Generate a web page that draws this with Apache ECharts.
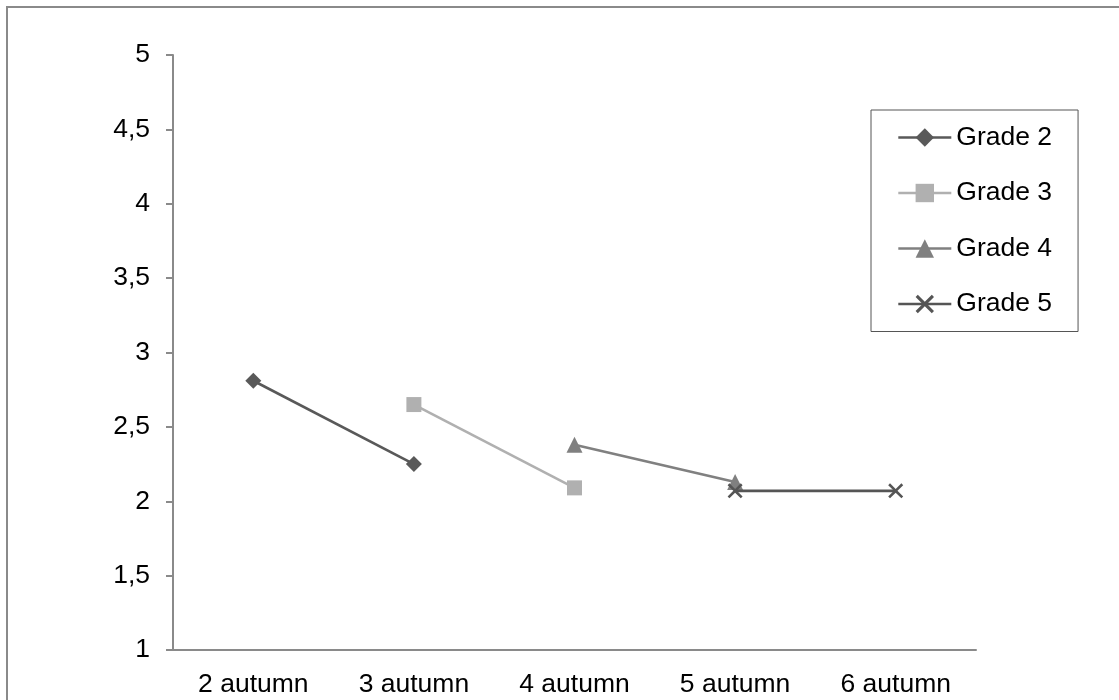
<!DOCTYPE html>
<html>
<head>
<meta charset="utf-8">
<script src="https://cdn.jsdelivr.net/npm/echarts@6/dist/echarts.min.js"></script>
<style>
html,body{margin:0;padding:0;background:#fff;}
#chart{position:absolute;left:0;top:0;width:1119px;height:700px;}
#frame{position:absolute;left:6px;top:6px;right:0;bottom:0;border-top:2px solid #8a8a8a;border-left:2px solid #8a8a8a;pointer-events:none;}
</style>
</head>
<body>
<div id="chart"></div>
<div id="frame"></div>
<script>
const categories = ['2 autumn', '3 autumn', '4 autumn', '5 autumn', '6 autumn'];
const seriesNames = ['Grade 2', 'Grade 3', 'Grade 4', 'Grade 5'];
const grade2 = [2.81, 2.25, null, null, null];
const grade3 = [null, 2.65, 2.09, null, null];
const grade4 = [null, null, 2.38, 2.13, null];
const grade5 = [null, null, null, 2.07, 2.07];
const yMin = 1, yMax = 5, yStep = 0.5;

const colors = ['#595959', '#b0b0b0', '#808080', '#555555'];
const xPath = 'path://M0,1.2 L1.2,0 L5,3.8 L8.8,0 L10,1.2 L6.2,5 L10,8.8 L8.8,10 L5,6.2 L1.2,10 L0,8.8 L3.8,5 Z';
const symbols = ['diamond', 'rect', 'triangle', xPath];
const sizes = [16, 15, 16, 15];
const values = [grade2, grade3, grade4, grade5];

const chart = echarts.init(document.getElementById('chart'), null, {renderer: 'canvas'});
chart.setOption({
  animation: false,
  textStyle: {fontFamily: 'Liberation Sans, Arial, sans-serif'},
  grid: {left: 173, right: 143, top: 55, bottom: 50, outerBoundsMode: 'none'},
  legend: {
    orient: 'vertical',
    left: 871, top: 110,
    padding: [14, 26],
    borderColor: '#555',
    borderWidth: 1,
    itemWidth: 53,
    itemHeight: 23,
    itemGap: 28.5,
    lineStyle: {width: 2.6},
    textStyle: {fontSize: 26.5, color: '#000', lineHeight: 27, fontFamily: 'Liberation Sans, Arial, sans-serif'},
    data: seriesNames.map((n, i) => ({name: n, itemStyle: {color: colors[i]}})),
  },
  xAxis: {
    type: 'category',
    data: categories,
    boundaryGap: true,
    axisLine: {lineStyle: {color: '#8a8a8a', width: 2}},
    axisTick: {length: 6, lineStyle: {color: '#8a8a8a', width: 2}},
    axisLabel: {fontSize: 26.5, color: '#000', margin: 21}
  },
  yAxis: {
    type: 'value',
    min: yMin, max: yMax, interval: yStep,
    axisLine: {show: true, lineStyle: {color: '#8a8a8a', width: 2}},
    axisTick: {show: true, length: 7, lineStyle: {color: '#8a8a8a', width: 2}},
    splitLine: {show: false},
    axisLabel: {fontSize: 26.5, color: '#000', margin: 23, formatter: v => String(v).replace('.', ',')}
  },
  series: seriesNames.map((n, i) => ({
    name: n,
    type: 'line',
    data: values[i],
    symbol: symbols[i],
    symbolSize: sizes[i],
    showSymbol: true,
    connectNulls: false,
    lineStyle: {color: colors[i], width: 2.6},
    itemStyle: {color: colors[i]},
    z: 2 + i
  }))
});
</script>
</body>
</html>
